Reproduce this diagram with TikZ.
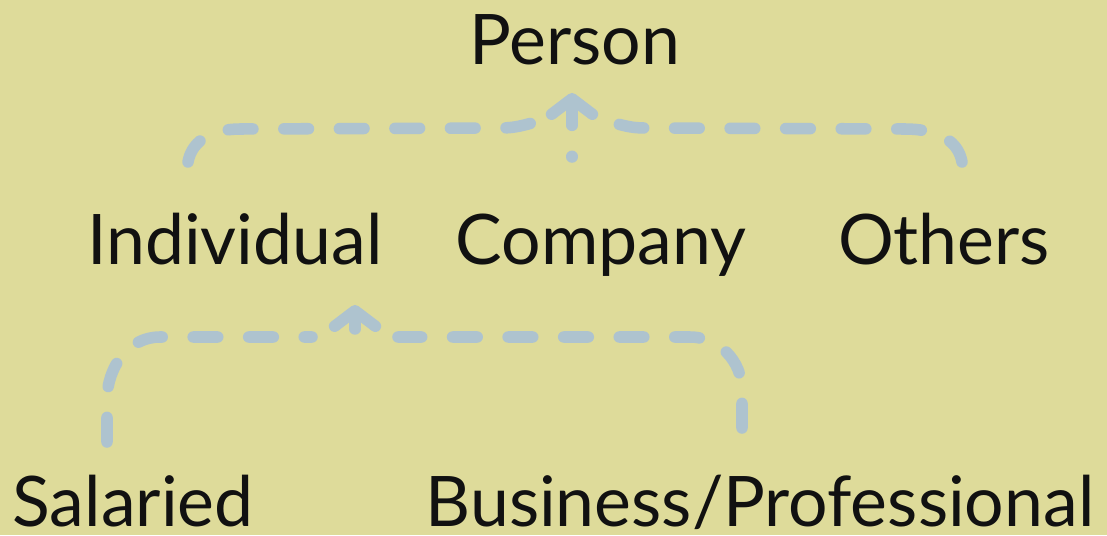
\documentclass[tikz,border=0pt]{standalone}
\usepackage{fontspec}
\setmainfont{Lato}
\usepackage{xcolor}
\usepackage{tikz}
\usetikzlibrary{arrows.meta}

\definecolor{khaki}{RGB}{222,219,154}
\definecolor{flowblue}{RGB}{174,195,207}
\definecolor{ink}{RGB}{17,17,17}

\begin{document}
\begin{tikzpicture}[x=0.025cm,y=0.025cm,
		term/.style={anchor=base,inner sep=0pt,text=ink,font=\fontsize{49.6}{60}\selectfont},
		flow/.style={flowblue,line width=8.2pt,line cap=round,line join=round,dash pattern=on 17.5pt off 22pt},
		flowtip/.style={flow,-{Straight Barb[length=11pt,width=29pt,round]}}]
			\fill[khaki] (0,0) rectangle (1107,535);
			%% terms
			\node[term] (person) at (575,470) {Person};
			\node[term] (individual) at (235,271) {Individual};
			\node[term] (company) at (601,271) {Company};
			\node[term] (others) at (944,271) {Others};
			\node[term] (salaried) at (133,9) {Salaried};
			\node[term] (business) at (760,9) {Business/Professional};
			%% ends of the flows
			\coordinate (individualOut) at (188,373);
			\coordinate (companyOut) at (572,378);
			\coordinate (othersOut) at (962,373);
			\coordinate (personLeft) at (532,412);
			\coordinate (personRight) at (614,412);
			\coordinate (personIn) at (572,442);
			\coordinate (salariedOut) at (107,93);
			\coordinate (businessOut) at (742,107);
			\coordinate (individualLeft) at (312,198);
			\coordinate (individualRight) at (398,198);
			\coordinate (individualJoin) at (355,192);
			\coordinate (individualIn) at (355,230);
			%% upper flows
			\draw[flow] (individualOut) to[out=80,in=180] (240,406) -- (500,407) to[out=0,in=-165] (personLeft);
			\draw[flow] (othersOut) to[out=100,in=0] (905,406) -- (645,407) to[out=180,in=-15] (personRight);
			\draw[flowtip,dash phase=17pt] (companyOut) -- (personIn);
			%% lower flows
			\draw[flow] (salariedOut) -- (107,135) to[out=90,in=180] (160,198) -- (individualLeft);
			\draw[flow] (businessOut) -- (742,145) to[out=90,in=0] (690,198) -- (individualRight);
			\draw[flowtip,dash phase=-10pt] (individualJoin) -- (individualIn);
\end{tikzpicture}
\end{document}
